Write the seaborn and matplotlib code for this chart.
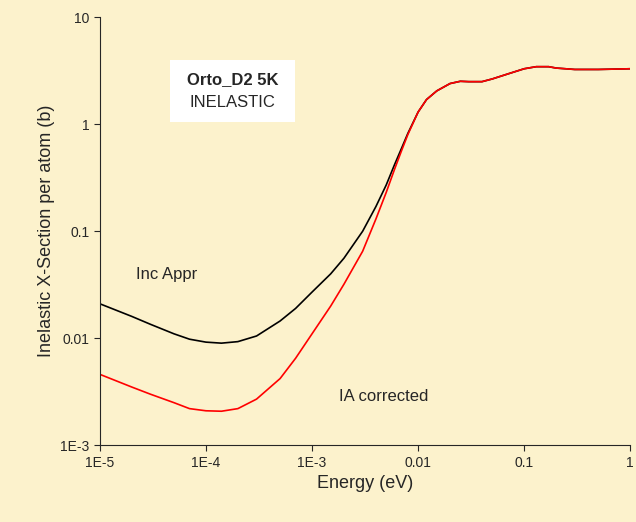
import matplotlib
matplotlib.use("Agg")
import matplotlib.pyplot as plt
import seaborn as sns
import pandas as pd

energy = [1e-5, 2e-5, 3e-5, 5e-5, 7e-5, 1e-4, 1.4e-4, 2e-4, 3e-4, 5e-4, 7e-4, 1e-3, 1.5e-3,
          2e-3, 3e-3, 4e-3, 5e-3, 6e-3, 7e-3, 8e-3, 1e-2, 1.2e-2, 1.5e-2, 2e-2, 2.5e-2, 3e-2,
          4e-2, 5e-2, 7e-2, 0.1, 0.13, 0.17, 0.2, 0.3, 0.5, 1.0]
xs_inc = [0.021, 0.016, 0.0135, 0.011, 0.0098, 0.0092, 0.009, 0.0093, 0.0105, 0.0145, 0.019,
          0.027, 0.04, 0.056, 0.1, 0.17, 0.27, 0.42, 0.6, 0.82, 1.3, 1.7, 2.05, 2.4, 2.52, 2.5,
          2.5, 2.65, 2.95, 3.3, 3.45, 3.45, 3.35, 3.25, 3.25, 3.3]
xs_ia = [0.0046, 0.0035, 0.003, 0.0025, 0.0022, 0.0021, 0.00208, 0.0022, 0.0027, 0.0042, 0.0065,
         0.011, 0.02, 0.032, 0.065, 0.13, 0.23, 0.38, 0.57, 0.8, 1.3, 1.7, 2.05, 2.4, 2.52, 2.5,
         2.5, 2.65, 2.95, 3.3, 3.45, 3.45, 3.35, 3.25, 3.25, 3.3]

bg = "#FCF2CC"
sns.set_style("ticks")
plt.rcParams["font.family"] = ["Liberation Sans", "DejaVu Sans"]

fig = plt.figure(figsize=(6.36, 5.22), dpi=100, facecolor=bg)
ax = fig.add_axes([0.157, 0.147, 0.834, 0.82], facecolor=bg)

df = pd.DataFrame({"E": energy, "Inc": xs_inc, "IA": xs_ia})
sns.lineplot(data=df, x="E", y="Inc", color="black", lw=1.2, ax=ax)
sns.lineplot(data=df, x="E", y="IA", color="red", lw=1.2, ax=ax)

ax.set_xscale("log")
ax.set_yscale("log")
ax.set_xlim(1e-5, 1)
ax.set_ylim(1e-3, 10)
ax.set_xticks([1e-5, 1e-4, 1e-3, 1e-2, 0.1, 1])
ax.set_xticklabels(["1E-5", "1E-4", "1E-3", "0.01", "0.1", "1"])
ax.set_yticks([1e-3, 0.01, 0.1, 1, 10])
ax.set_yticklabels(["1E-3", "0.01", "0.1", "1", "10"])
ax.minorticks_off()
ax.tick_params(labelsize=10, length=4)
sns.despine(ax=ax)

ax.set_xlabel("Energy (eV)", fontsize=13)
ax.set_ylabel("Inelastic X-Section per atom (b)", fontsize=13)

ax.text(2.2e-5, 0.036, "Inc Appr", fontsize=12)
ax.text(1.8e-3, 0.0026, "IA corrected", fontsize=12)
ax.text(0.25, 0.845, "Orto_D2 5K", fontsize=12, fontweight="bold", ha="center",
        transform=ax.transAxes)
ax.text(0.25, 0.79, "INELASTIC", fontsize=12, ha="center", transform=ax.transAxes)
ax.add_patch(plt.Rectangle((0.133, 0.755), 0.235, 0.145, transform=ax.transAxes,
                           facecolor="white", edgecolor="none", zorder=0.5))

fig.savefig("out.png", dpi=100, facecolor=bg)
